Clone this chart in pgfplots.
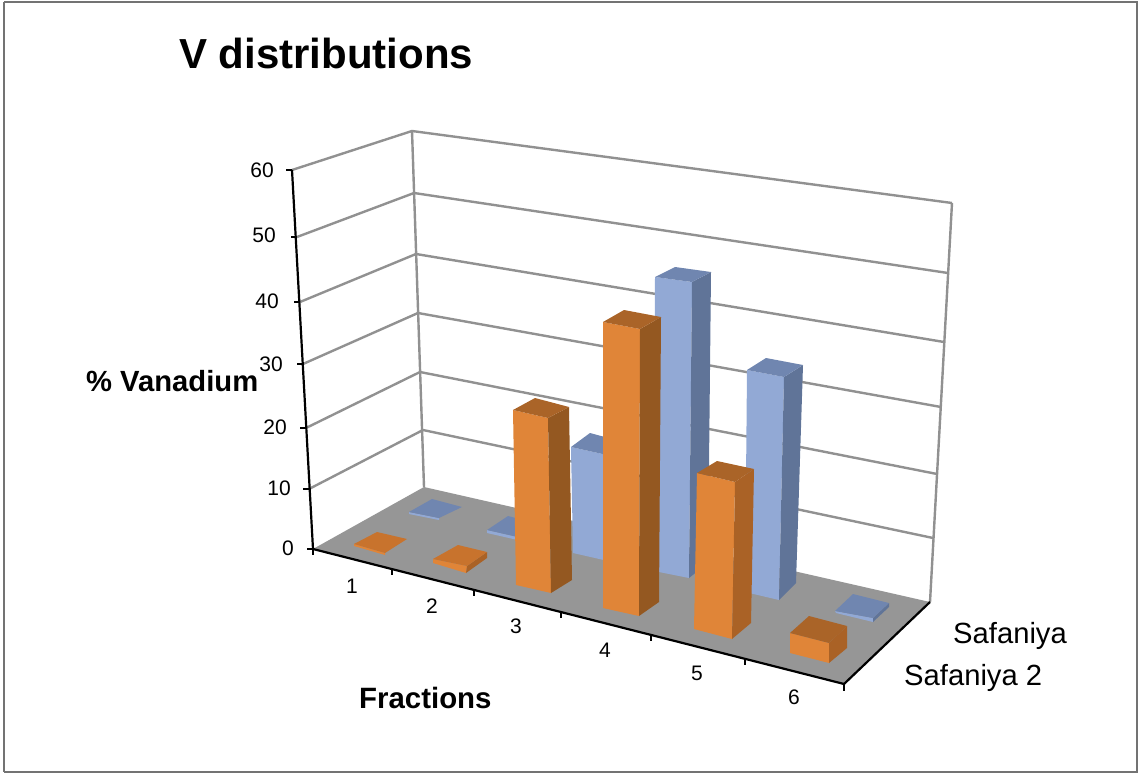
\documentclass[border=0pt]{standalone}
\usepackage{pgfplots}
\usepackage{fontspec}
\setmainfont{Liberation Sans}
\pgfplotsset{compat=1.18}
\definecolor{oF}{RGB}{224,133,56}
\definecolor{oR}{RGB}{148,88,33}
\definecolor{oS}{RGB}{170,98,38}
\definecolor{oT}{RGB}{170,100,40}
\definecolor{oU}{RGB}{200,115,45}
\definecolor{bF}{RGB}{146,169,213}
\definecolor{bR}{RGB}{96,116,152}
\definecolor{bT}{RGB}{112,134,176}
\definecolor{flr}{RGB}{150,150,150}
\definecolor{wl}{RGB}{145,145,145}
\newcommand\face[2]{\addplot[fill=#1,draw=none,forget plot] coordinates {#2} --cycle;}
\newcommand\gl[2]{\addplot[draw=#1,line width=2.4pt,forget plot] coordinates {#2};}
\newcommand\tk[1]{\addplot[draw=black,line width=1.2pt,forget plot] coordinates {#1};}
\newcommand\lbl[4]{\node[anchor=#1,inner sep=0pt] at (axis cs:#2,#3) {#4};}
\begin{document}
\begin{tikzpicture}
\path[use as bounding box] (0,0) rectangle (1138pt,773pt);
\begin{axis}[at={(0,0)},anchor=south west,width=1138pt,height=773pt,scale only axis,
  hide axis,xmin=0,xmax=1138,ymin=0,ymax=773,y dir=reverse,clip=false]
% frame
\addplot[draw=black!55,line width=2pt,forget plot] coordinates {(4,2)(4,772)};
\addplot[draw=black!55,line width=1.2pt,forget plot] coordinates {(4,2)(1137,2)(1137,772)(4,772)};
% floor
\face{flr}{(313,549)(424,487)(930,602)(844,684)}
% walls: side gridlines, value 0..60
\gl{wl}{(309,489)(423,430)(933,538)}
\gl{wl}{(306,428)(420,372)(937,474)}
\gl{wl}{(303,364)(418,313)(941,407)}
\gl{wl}{(300,302)(416,254)(944,342)}
\gl{wl}{(297,237)(414,193)(948,273)}
\gl{wl}{(292,170)(412,131)(952,203)}
\gl{wl}{(412,131)(424,487)}
\gl{wl}{(952,203)(930,602)}
% bars, back row (Safaniya)
\face{bF}{(409,512)(439,518)(439,520)(409,514)}
\face{bT}{(409,512)(439,518)(462,507)(432,499)}
\face{bF}{(487,530)(522,538)(522,541)(487,533)}
\face{bT}{(487,530)(522,538)(542,525)(508,516)}
\face{bF}{(571,447)(607,455)(608,561)(573,553)}
\face{bR}{(607,455)(627,443)(628,550)(608,561)}
\face{bT}{(571,447)(607,455)(627,443)(590,433)}
\face{bF}{(655,277)(692,282)(689,578)(654,571)}
\face{bR}{(692,282)(711,272)(708,563)(689,578)}
\face{bT}{(655,277)(692,282)(711,272)(675,267)}
\face{bF}{(747,370)(784,377)(779,600)(745,592)}
\face{bR}{(784,377)(803,365)(796,583)(779,600)}
\face{bT}{(747,370)(784,377)(803,365)(766,358)}
\face{bF}{(835,611)(873,618)(873,622)(836,613)}
\face{bR}{(873,618)(889,603)(889,607)(873,622)}
\face{bT}{(835,611)(873,618)(889,603)(853,594)}
% bars, front row (Safaniya 2)
\face{oF}{(354,544)(385,553)(385,555)(354,546)}
\face{oU}{(354,544)(385,553)(407,539)(377,532)}
\face{oF}{(433,559)(467,566)(466,573)(433,563)}
\face{oS}{(467,566)(487,552)(487,558)(466,573)}
\face{oU}{(433,559)(467,566)(487,552)(458,545)}
\face{oF}{(513,410)(548,418)(551,593)(516,585)}
\face{oR}{(548,418)(569,407)(572,580)(551,593)}
\face{oT}{(513,410)(548,418)(569,407)(535,398)}
\face{oF}{(603,322)(640,329)(639,616)(603,608)}
\face{oR}{(640,329)(661,317)(659,602)(639,616)}
\face{oT}{(603,322)(640,329)(661,317)(624,310)}
\face{oF}{(697,473)(735,482)(732,639)(694,629)}
\face{oS}{(735,482)(754,469)(751,623)(732,639)}
\face{oT}{(697,473)(735,482)(754,469)(717,461)}
\face{oF}{(790,633)(829,643)(829,663)(790,653)}
\face{oS}{(829,643)(847,626)(847,648)(829,663)}
\face{oT}{(790,633)(829,643)(847,626)(809,616)}
% black axes
\addplot[draw=black,line width=2.2pt,forget plot] coordinates {(292,170)(313,549)};
\addplot[draw=black,line width=2.2pt,forget plot] coordinates {(313,549)(844,684)(930,602)};
\tk{(286,170)(292,170)}\tk{(291,237)(297,237)}\tk{(294,302)(300,302)}\tk{(297,364)(303,364)}
\tk{(300,428)(306,428)}\tk{(303,489)(309,489)}\tk{(307,549)(313,549)}
\tk{(313,549)(313,555)}\tk{(392,569)(392,575)}\tk{(474,590)(474,596)}\tk{(561,612)(561,618)}
\tk{(651,635)(651,641)}\tk{(745,659)(745,665)}\tk{(844,684)(844,691)}
% value labels
\lbl{east}{274}{170}{\fontsize{21}{23}\selectfont 60}
\lbl{east}{276}{235}{\fontsize{21}{23}\selectfont 50}
\lbl{east}{279}{301}{\fontsize{21}{23}\selectfont 40}
\lbl{east}{283}{364}{\fontsize{21}{23}\selectfont 30}
\lbl{east}{287}{427}{\fontsize{21}{23}\selectfont 20}
\lbl{east}{291}{488}{\fontsize{21}{23}\selectfont 10}
\lbl{east}{294}{548}{\fontsize{21}{23}\selectfont 0}
\lbl{center}{352}{586}{\fontsize{21}{23}\selectfont 1}
\lbl{center}{432}{606}{\fontsize{21}{23}\selectfont 2}
\lbl{center}{516}{626}{\fontsize{21}{23}\selectfont 3}
\lbl{center}{605}{650}{\fontsize{21}{23}\selectfont 4}
\lbl{center}{697}{673}{\fontsize{21}{23}\selectfont 5}
\lbl{center}{794}{697}{\fontsize{21}{23}\selectfont 6}
% titles
\lbl{west}{179}{53}{\fontsize{42}{44}\selectfont\bfseries V distributions}
\lbl{west}{86}{381}{\fontsize{29.2}{31}\selectfont\bfseries \% Vanadium}
\lbl{west}{359}{698}{\fontsize{29.4}{31}\selectfont\bfseries Fractions}
\lbl{west}{953}{636}{\fontsize{29.2}{31}\selectfont Safaniya}
\lbl{west}{904}{678}{\fontsize{29.2}{31}\selectfont Safaniya 2}
\end{axis}
\end{tikzpicture}
\end{document}
